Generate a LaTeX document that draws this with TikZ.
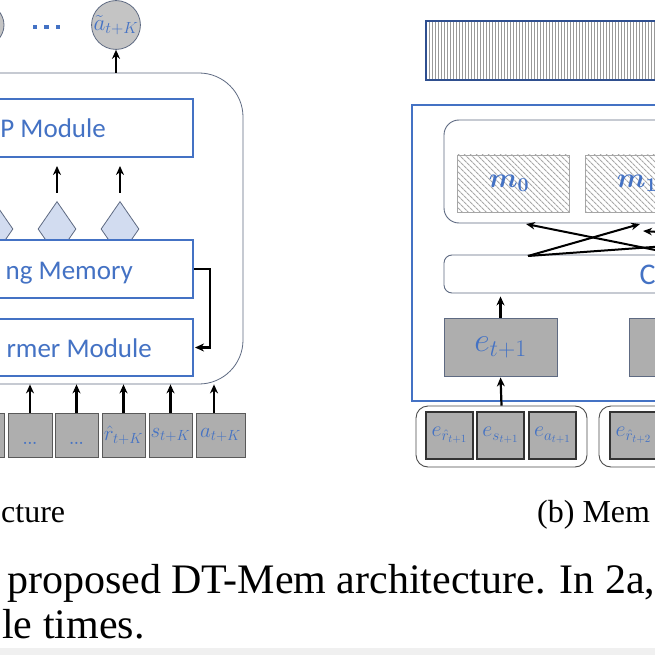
\RequirePackage{fix-cm}
\documentclass[tikz,border=0pt]{standalone}
\usepackage{fontspec}
\usepackage{amsmath,bm}
\usetikzlibrary{arrows.meta,patterns.meta,shapes.geometric}
\newfontfamily\calfont{Carlito}
\newfontfamily\capfont{Liberation Serif}
\definecolor{ublue}{HTML}{4472C4}
\definecolor{dblue}{HTML}{2F4F8F}
\definecolor{tokgray}{HTML}{AEAEAE}
\definecolor{edgegray}{HTML}{5E6A82}
\definecolor{diafill}{HTML}{D2DCF0}
\definecolor{hatchgray}{HTML}{A8A8A8}
\tikzset{
  arr/.style={line width=2.2pt,-{Stealth[length=9pt,width=8pt]}},
  outerbox/.style={draw=edgegray,line width=0.8pt,rounded corners=44pt,inner sep=0pt},
  modbox/.style={draw=ublue,line width=2pt,fill=white,inner sep=0pt},
  modtext/.style={text=ublue,font=\calfont\fontsize{27}{32}\selectfont,inner sep=0pt},
  circ/.style={circle,draw=edgegray,line width=0.8pt,fill=black!23,minimum size=42pt,inner sep=0pt,text=ublue,font=\fontsize{23}{26}\selectfont},
  dotsq/.style={fill=ublue,minimum size=4.5pt,inner sep=0pt},
  dia/.style={diamond,draw=edgegray,line width=0.8pt,fill=diafill,minimum width=38pt,minimum height=55pt,inner sep=0pt},
  tok/.style={draw=black!65,line width=0.9pt,fill=tokgray,inner sep=0pt,minimum height=44pt,text=ublue,font=\fontsize{21}{24}\selectfont},
  tokdots/.style={text=ublue,font=\bfseries\fontsize{15}{17}\selectfont,inner sep=0pt},
  hatchbar/.style={draw=dblue,line width=2pt,inner sep=0pt,pattern={Lines[angle=90,distance=3pt,line width=0.9pt]},pattern color=black!40},
  blueframe/.style={draw=ublue,line width=2.5pt,inner sep=0pt},
  memround/.style={draw=edgegray,line width=0.9pt,rounded corners=15pt,inner sep=0pt},
  mslot/.style={draw=black!35,line width=0.8pt,inner sep=0pt,pattern={Lines[angle=-45,distance=4pt,line width=1.1pt]},pattern color=hatchgray},
  mtext/.style={text=ublue,font=\fontsize{28}{32}\selectfont,inner sep=0pt},
  ctrlbox/.style={draw=edgegray,line width=0.9pt,rounded corners=8pt,inner sep=0pt},
  ebox/.style={draw=edgegray,line width=0.9pt,fill=tokgray,inner sep=0pt,text=ublue,font=\fontsize{34}{38}\selectfont},
  grp/.style={draw=black!70,line width=0.9pt,rounded corners=12pt,fill=white,inner sep=0pt},
  etok/.style={draw=black!80,line width=1.1pt,fill=tokgray,inner sep=0pt,minimum width=47pt,minimum height=47pt,text=ublue,font=\fontsize{22}{25}\selectfont},
  xarr/.style={line width=2pt,-{Stealth[length=9pt,width=7.5pt]}},
  xline/.style={line width=2pt},
  capsub/.style={font=\capfont\fontsize{32}{36}\selectfont,inner sep=0pt},
  capmain/.style={font=\capfont\fontsize{42}{46}\selectfont,inner sep=0pt}
}
\begin{document}
\begin{tikzpicture}[x=1pt,y=-1pt]
\useasboundingbox (0,0) rectangle (655,655);
\clip (0,0) rectangle (655,655);
\fill[white] (0,0) rectangle (655,655);
\fill[black!6] (0,648) rectangle (655,655);

% ---------------- (a) architecture ----------------
\node[outerbox,minimum width=303pt,minimum height=311pt] (outer) at (91.5,228.5) {};
\node[circ] (c0) at (-17,25) {};
\node[circ] (cK) at (116,25) {$\tilde{a}_{t+K}$};
\node[dotsq] (d1) at (35,27) {};
\node[dotsq] (d2) at (46.5,27) {};
\node[dotsq] (d3) at (58,27) {};
\draw[arr] (outer.north -| cK) -- (cK.south);

\node[modbox,minimum width=243pt,minimum height=58pt] (mlp) at (71.5,128) {};
\node[modtext,anchor=base east] (mlpt) at (106,138) {P Module};

\node[dia] (dm0) at (-6,229) {};
\node[dia] (dm1) at (57,229) {};
\node[dia] (dm2) at (120,229) {};

\node[modbox,minimum width=243pt,minimum height=58pt] (wm) at (71.5,269) {};
\node[modtext,anchor=base east] (wmt) at (133,279) {ng Memory};
\node[modbox,minimum width=243pt,minimum height=57pt] (tf) at (71.5,347.5) {};
\node[modtext,anchor=base east] (tft) at (152,357) {rmer Module};

\draw[arr,shorten <=8.5pt,shorten >=8pt] (dm1.north) -- (dm1.north |- mlp.south);
\draw[arr,shorten <=8.5pt,shorten >=8pt] (dm2.north) -- (dm2.north |- mlp.south);
\draw[arr,shorten >=1pt] (wm.east) -- ++(16,0) |- (tf.east);

\node[tok,minimum width=44pt] (t1) at (-18,435) {};
\node[tok,minimum width=44pt] (t2) at (30,435) {};
\node[tok,minimum width=43pt] (t3) at (76.5,435) {};
\node[tok,minimum width=43pt] (t4) at (123.5,435) {$\hat{r}_{t+K}$};
\node[tok,minimum width=43pt] (t5) at (170.5,435) {$s_{t+K}$};
\node[tok,minimum width=49pt] (t6) at (220.5,435) {$a_{t+K}$};
\node[tokdots,anchor=base] (t2d) at (30,444) {...};
\node[tokdots,anchor=base] (t3d) at (76.5,444) {...};
\foreach \t in {t2,t3,t4,t5} {\draw[arr] (\t.north) -- (\t.north |- outer.south);}
\draw[arr] ([xshift=-6.5pt]t6.north) -- ([xshift=-6.5pt]t6.north |- outer.south);

% ---------------- (b) memory module ----------------
\node[hatchbar,minimum width=274pt,minimum height=59pt] (bar) at (563,50.5) {};
\node[blueframe,minimum width=288pt,minimum height=296pt] (frame) at (556,253) {};
\node[memround,minimum width=276pt,minimum height=103pt] (mem) at (582,171.5) {};
\node[mslot,minimum width=112pt,minimum height=57pt] (m0) at (513,183.5) {};
\node[mslot,minimum width=112pt,minimum height=57pt] (m1) at (641,183.5) {};
\node[mtext] (m0t) at (509,183) {$\bm{m_0}$};
\node[mtext] (m1t) at (637,183) {$\bm{m_1}$};

\node[ctrlbox,minimum width=276pt,minimum height=38pt] (ctrl) at (582,274) {};
\node[modtext,anchor=base west,font=\calfont\fontsize{30}{34}\selectfont] (ctrlt) at (639.5,284) {C};

\coordinate (ca) at (528,256);
\coordinate (cfar) at (690,257);
\coordinate (bfar) at (1000,222);
\coordinate (dfar) at (720,236);
\coordinate (m0in) at (526,224);
\coordinate (m1in) at (640,224);
\coordinate (m1in2) at (643,231);
\draw[xarr] (ca) -- (m1in);
\draw[xarr] (cfar) -- (m0in);
\draw[xline] (ca) -- (bfar);
\draw[xarr] (dfar) -- (m1in2);

\node[ebox,minimum width=113pt,minimum height=58pt] (e1) at (500.5,347) {$e_{t+1}$};
\node[ebox,minimum width=113pt,minimum height=58pt] (e2) at (685.5,347) {};
\draw[arr,shorten >=3pt] (e1.north) -- (e1.north |- ctrl.south);

\node[grp,minimum width=171pt,minimum height=61pt] (g1) at (501.5,436.5) {};
\node[grp,minimum width=171pt,minimum height=61pt] (g2) at (684.5,436.5) {};
\node[etok] (r1) at (449.5,435.5) {$e_{\hat{r}_{t+1}}$};
\node[etok] (s1) at (500.5,435.5) {$e_{s_{t+1}}$};
\node[etok] (a1) at (552.5,435.5) {$e_{a_{t+1}}$};
\node[etok] (r2) at (633.5,435.5) {$e_{\hat{r}_{t+2}}$};
\draw[arr,shorten >=1pt] (g1.north) -- (e1.south);

% ---------------- captions ----------------
\node[capsub,anchor=base west] (capa) at (1,522) {cture};
\node[capsub,anchor=base west] (capb) at (537,522) {(b) Mem};
\node[capmain,anchor=base west] (cap1) at (7,593) {proposed DT-Mem architecture. In 2a,};
\node[capmain,anchor=base west] (cap2) at (2,638) {le times.};
\end{tikzpicture}
\end{document}
